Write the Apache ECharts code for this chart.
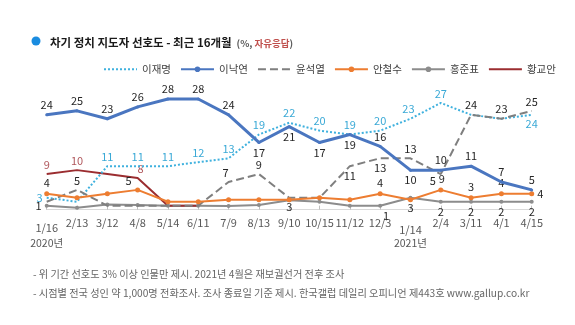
<!DOCTYPE html>
<html>
<head>
<meta charset="utf-8">
<script src="https://cdn.jsdelivr.net/npm/echarts@6/dist/echarts.min.js"></script>
<style>
  html, body { margin: 0; padding: 0; background: #fff; }
  #chart { width: 575px; height: 325px; }
</style>
</head>
<body>
<div id="chart"></div>
<script>
// Survey dates (last day of fieldwork), Jan 2020 – Apr 2021
const categories = ['1/16','2/13','3/12','4/8','5/14','6/11','7/9','8/13','9/10','10/15','11/12','12/3','1/14','2/4','3/11','4/1','4/15'];
// Year captions placed under the first survey of each year
const yearMarks = { 0: '2020년', 12: '2021년' };

// Preference (%) by person
const leeJaemyung = [3, 2, 11, 11, 11, 12, 13, 19, 22, 20, 19, 20, 23, 27, 24, 23, 24];
const leeNakyon   = [24, 25, 23, 26, 28, 28, 24, 17, 21, 17, 19, 16, 10, 10, 11, 7, 5];
const yoonSeokyoul = [2, 5, 1, 1, 1, 1, 7, 9, 3, 3, 11, 13, 13, 9, 24, 23, 25];
const ahnCheolsoo = [4, 3, 4, 5, 2, 2, 2.5, 2.5, 2.5, 3, 2.5, 4, 2.5, 5, 3, 4, 4];
const hongJunpyo  = [1, 0.5, 1.3, 1.2, 1, 1, 0.9, 1.2, 2.4, 2, 1, 1, 3, 2, 2, 2, 2];
const hwangKyoahn = [9, 10, 9, 8, 1, 1, null, null, null, null, null, null, null, null, null, null, null];

// Where each value label sits: index -> [position, dx, dy]
const labelPlacement = {
  leeJaemyung: {0:['left',0,0],2:['top'],3:['top'],4:['top'],5:['top'],6:['top'],7:['top'],8:['top'],9:['top'],10:['top'],11:['top'],12:['top',-2,0],13:['top'],16:['bottom']},
  leeNakyon: {0:['top'],1:['top'],2:['top'],3:['top'],4:['top'],5:['top'],6:['top'],7:['bottom'],8:['bottom'],9:['bottom'],10:['bottom'],11:['top'],12:['bottom'],13:['top'],14:['top'],15:['top'],16:['top']},
  yoonSeokyoul: {1:['top'],6:['top',-3,0],7:['top'],8:['bottom'],10:['bottom'],11:['bottom'],12:['top'],13:['bottom',1,-5],14:['top'],15:['top'],16:['top']},
  ahnCheolsoo: {0:['top'],3:['top',-9,2],11:['top'],13:['top',-8,2],14:['top'],15:['top'],16:['right']},
  hongJunpyo: {0:['left'],11:['bottom',6,0],12:['bottom'],13:['bottom'],14:['bottom'],15:['bottom'],16:['bottom']},
  hwangKyoahn: {0:['top'],1:['top'],3:['top',3,0]}
};

const FONT = "'Noto Sans CJK KR', 'Noto Sans', sans-serif";

function withLabels(values, placement, color) {
  return values.map((v, i) => {
    const p = placement[i];
    if (v === null) return null;
    if (!p) return { value: v, label: { show: false } };
    return {
      value: v,
      label: {
        show: true,
        position: p[0],
        offset: [p[1] || 0, p[2] || 0],
        color: color,
        opacity: 1,
        fontSize: 11,
        fontFamily: FONT,
        distance: 3,
        formatter: '{c}'
      }
    };
  });
}

// Line labels hang off the point symbols, so every series keeps a symbol;
// series drawn without visible markers get a transparent-filled one.
function lineSeries(name, values, placement, opts) {
  const visible = !!opts.symbolSize;
  return {
    name: name,
    type: 'line',
    data: withLabels(values, placement, opts.labelColor),
    symbol: 'circle',
    symbolSize: visible ? opts.symbolSize : 2,
    showSymbol: true,
    showAllSymbol: true,
    connectNulls: false,
    color: opts.color,
    lineStyle: { color: opts.color, width: opts.width || 2, type: opts.type || 'solid' },
    itemStyle: visible ? { color: opts.color } : { color: 'rgba(0,0,0,0)', borderWidth: 0 },
    emphasis: { disabled: true },
    z: opts.z || 2,
    animation: false
  };
}

const chart = echarts.init(document.getElementById('chart'), null, { renderer: 'canvas' });

chart.setOption({
  backgroundColor: '#ffffff',
  animation: false,
  title: {
    left: 45,
    top: 29,
    text: '{a|차기 정치 지도자 선호도 - 최근 16개월} {b|(%, }{c|자유응답}{b|)}',
    textStyle: {
      rich: {
        a: { fontSize: 11.5, fontWeight: 'bold', color: '#1a1a1a', fontFamily: FONT },
        b: { fontSize: 9.5, color: '#595959', fontFamily: FONT },
        c: { fontSize: 9.5, color: '#c0504d', fontFamily: FONT }
      }
    }
  },
  legend: {
    left: 103,
    top: 64,
    padding: 0,
    width: 472,
    itemWidth: 33,
    itemHeight: 7,
    itemGap: 9,
    textStyle: { fontSize: 10.5, color: '#404040', fontFamily: FONT },
    data: ['이재명','이낙연','윤석열','안철수','홍준표','황교안']
  },
  grid: { left: 46.7, right: 43.3, top: 91.1, bottom: 112.2, containLabel: false },
  xAxis: [
    {
      type: 'category',
      data: categories,
      boundaryGap: false,
      axisLine: { lineStyle: { color: '#d9d9d9', width: 1 } },
      axisTick: { show: true, inside: true, length: 4, alignWithLabel: true, lineStyle: { color: '#bfbfbf' } },
      axisLabel: {
        interval: 0,
        margin: 5,
        color: '#595959',
        fontSize: 11,
        fontFamily: FONT,
        formatter: function (v, i) {
          if (i === 0) return '{lo|' + v + '}';
          if (i === 12) return '{lo2|' + v + '}';
          return v;
        },
        rich: {
          lo: { fontSize: 11, color: '#595959', fontFamily: FONT, lineHeight: 20 },
          lo2: { fontSize: 11, color: '#595959', fontFamily: FONT, lineHeight: 24 }
        }
      }
    },
    {
      type: 'category',
      data: categories,
      boundaryGap: false,
      position: 'bottom',
      axisLine: { show: false },
      axisTick: { show: false },
      axisLabel: {
        interval: 0,
        margin: 25,
        color: '#595959',
        fontSize: 10.5,
        fontFamily: FONT,
        formatter: function (v, i) { return yearMarks[i] || ''; }
      }
    }
  ],
  yAxis: { type: 'value', min: -0.8, max: 30, show: false, splitLine: { show: false } },
  graphic: [
    { type: 'circle', shape: { cx: 36, cy: 41, r: 4.5 }, style: { fill: '#1a8ce0' } },
    { type: 'text', left: 33, top: 269, style: { text: '- 위 기간 선호도 3% 이상 인물만 제시. 2021년 4월은 재보궐선거 전후 조사', fill: '#666666', fontSize: 10.2, fontFamily: FONT } },
    { type: 'text', left: 33, top: 288, style: { text: '- 시점별 전국 성인 약 1,000명 전화조사. 조사 종료일 기준 제시. 한국갤럽 데일리 오피니언 제443호 www.gallup.co.kr', fill: '#666666', fontSize: 10.2, fontFamily: FONT } }
  ],
  series: [
    lineSeries('이재명', leeJaemyung, labelPlacement.leeJaemyung, { color: '#3fb1de', labelColor: '#3aa9d6', type: 'dotted', width: 2, z: 3 }),
    lineSeries('이낙연', leeNakyon, labelPlacement.leeNakyon, { color: '#4a76c0', labelColor: '#262626', width: 3, symbolSize: 3, z: 4 }),
    lineSeries('윤석열', yoonSeokyoul, labelPlacement.yoonSeokyoul, { color: '#7f7f7f', labelColor: '#262626', type: 'dashed', width: 2, z: 3 }),
    lineSeries('안철수', ahnCheolsoo, labelPlacement.ahnCheolsoo, { color: '#ed7d31', labelColor: '#262626', width: 2, symbolSize: 5, z: 3 }),
    lineSeries('홍준표', hongJunpyo, labelPlacement.hongJunpyo, { color: '#8c8c8c', labelColor: '#262626', width: 2, symbolSize: 4, z: 2 }),
    lineSeries('황교안', hwangKyoahn, labelPlacement.hwangKyoahn, { color: '#9b2d30', labelColor: '#b0575c', width: 2, z: 2 })
  ]
});
</script>
</body>
</html>
